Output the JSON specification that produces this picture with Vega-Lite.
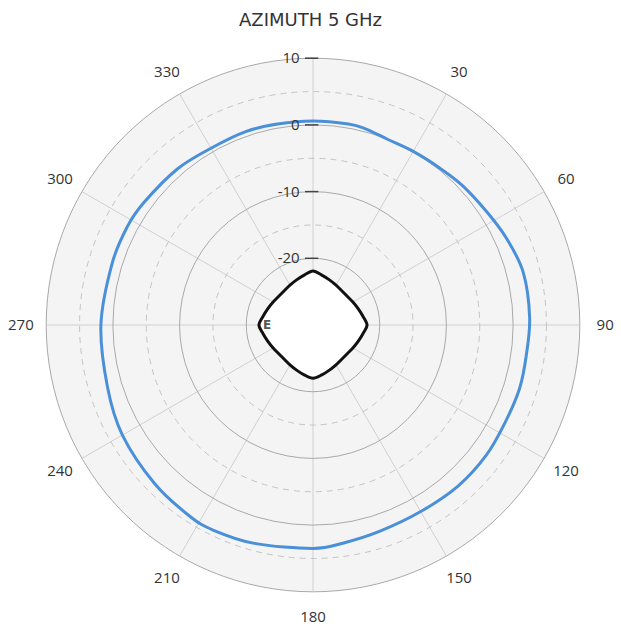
{
  "$schema": "https://vega.github.io/schema/vega-lite/v6.json",
  "width": 621,
  "height": 635,
  "autosize": "none",
  "padding": 0,
  "background": "white",
  "title": {"text": "AZIMUTH 5 GHz", "font": "DejaVu Sans", "fontSize": 18, "fontWeight": "normal", "color": "#333333", "anchor": "middle", "orient": "top", "offset": -30},
  "config": {"view": {"stroke": null}},
  "resolve": {"scale": {"x": "shared", "y": "shared", "size": "independent"}},
  "datasets": {
    "blue": [
      {"angle": 0, "db": 0.6}, {"angle": 10, "db": 0.6}, {"angle": 15, "db": 0.45}, {"angle": 22, "db": 0.0},
      {"angle": 30, "db": 0.05}, {"angle": 39, "db": 0.25}, {"angle": 47, "db": 0.65}, {"angle": 57, "db": 1.1},
      {"angle": 66, "db": 1.8}, {"angle": 76, "db": 2.5}, {"angle": 88, "db": 2.5}, {"angle": 98, "db": 2.3},
      {"angle": 107, "db": 2.4}, {"angle": 117, "db": 2.3}, {"angle": 127, "db": 2.5}, {"angle": 138, "db": 2.5},
      {"angle": 150, "db": 2.3}, {"angle": 162, "db": 2.5}, {"angle": 172, "db": 3.0}, {"angle": 180, "db": 3.5},
      {"angle": 195, "db": 3.9}, {"angle": 206, "db": 4.2}, {"angle": 213, "db": 4.1}, {"angle": 225, "db": 3.6},
      {"angle": 240, "db": 3.0}, {"angle": 253, "db": 2.2}, {"angle": 270, "db": 1.8}, {"angle": 287, "db": 1.5},
      {"angle": 298, "db": 1.5}, {"angle": 306, "db": 1.3}, {"angle": 319, "db": 1.0}, {"angle": 330, "db": 0.6},
      {"angle": 341, "db": 0.7}, {"angle": 350, "db": 0.6}
    ],
    "black": [
      {"angle": 0, "db": -21.9}, {"angle": 10, "db": -22.4}, {"angle": 20, "db": -22.8}, {"angle": 30, "db": -23.1},
      {"angle": 40, "db": -23.3}, {"angle": 50, "db": -23.3}, {"angle": 60, "db": -23.1}, {"angle": 70, "db": -22.8},
      {"angle": 80, "db": -22.4}, {"angle": 90, "db": -21.9}, {"angle": 100, "db": -22.4}, {"angle": 110, "db": -22.8},
      {"angle": 120, "db": -23.1}, {"angle": 130, "db": -23.3}, {"angle": 140, "db": -23.3}, {"angle": 150, "db": -23.1},
      {"angle": 160, "db": -22.8}, {"angle": 170, "db": -22.4}, {"angle": 180, "db": -22.0}, {"angle": 190, "db": -22.4},
      {"angle": 200, "db": -22.8}, {"angle": 210, "db": -23.1}, {"angle": 220, "db": -23.3}, {"angle": 230, "db": -23.3},
      {"angle": 240, "db": -23.1}, {"angle": 250, "db": -22.8}, {"angle": 260, "db": -22.4}, {"angle": 270, "db": -21.9},
      {"angle": 280, "db": -22.4}, {"angle": 290, "db": -22.8}, {"angle": 300, "db": -23.1}, {"angle": 310, "db": -23.3},
      {"angle": 320, "db": -23.3}, {"angle": 330, "db": -23.1}, {"angle": 340, "db": -22.8}, {"angle": 350, "db": -22.4}
    ]
  },
  "layer": [
    {
      "data": {"values": [{"db": 10}]},
      "transform": [{"calculate": "datum.db + 30", "as": "r"}, {"calculate": "0", "as": "cx"}],
      "mark": {"type": "point", "shape": "circle", "filled": true, "fill": "#f4f4f4", "stroke": "#a9a9a9", "strokeWidth": 1, "opacity": 1},
      "encoding": {
        "x": {"field": "cx", "type": "quantitative", "scale": {"domain": [-46.93, 46.18], "nice": false, "zero": false}, "axis": null},
        "y": {"field": "cx", "type": "quantitative", "scale": {"domain": [-46.48, 48.73], "nice": false, "zero": false}, "axis": null},
        "size": {"field": "r", "type": "quantitative", "scale": {"type": "pow", "exponent": 2, "domain": [0, 40], "range": [0, 284736], "zero": true}, "legend": null}
      }
    },
    {
      "data": {"values": [{"angle": 0}, {"angle": 30}, {"angle": 60}, {"angle": 90}, {"angle": 120}, {"angle": 150}, {"angle": 180}, {"angle": 210}, {"angle": 240}, {"angle": 270}, {"angle": 300}, {"angle": 330}]},
      "transform": [
        {"calculate": "0", "as": "cx"},
        {"calculate": "40 * sin(datum.angle * PI / 180)", "as": "ex"},
        {"calculate": "40 * cos(datum.angle * PI / 180)", "as": "ey"}
      ],
      "mark": {"type": "rule", "stroke": "#d0d0d0", "strokeWidth": 1},
      "encoding": {
        "x": {"field": "cx", "type": "quantitative"},
        "y": {"field": "cx", "type": "quantitative"},
        "x2": {"field": "ex"},
        "y2": {"field": "ey"}
      }
    },
    {
      "data": {"values": [{"db": -15}, {"db": -5}, {"db": 5}]},
      "transform": [{"calculate": "datum.db + 30", "as": "r"}, {"calculate": "0", "as": "cx"}],
      "mark": {"type": "point", "shape": "circle", "filled": false, "stroke": "#c4c4c4", "strokeWidth": 1, "strokeDash": [6, 5], "opacity": 1},
      "encoding": {
        "x": {"field": "cx", "type": "quantitative"},
        "y": {"field": "cx", "type": "quantitative"},
        "size": {"field": "r", "type": "quantitative", "scale": {"type": "pow", "exponent": 2, "domain": [0, 40], "range": [0, 284736], "zero": true}, "legend": null}
      }
    },
    {
      "data": {"values": [{"db": -20}, {"db": -10}, {"db": 0}]},
      "transform": [{"calculate": "datum.db + 30", "as": "r"}, {"calculate": "0", "as": "cx"}],
      "mark": {"type": "point", "shape": "circle", "filled": false, "stroke": "#a9a9a9", "strokeWidth": 1, "opacity": 1},
      "encoding": {
        "x": {"field": "cx", "type": "quantitative"},
        "y": {"field": "cx", "type": "quantitative"},
        "size": {"field": "r", "type": "quantitative", "scale": {"type": "pow", "exponent": 2, "domain": [0, 40], "range": [0, 284736], "zero": true}, "legend": null}
      }
    },
    {
      "data": {"name": "blue"},
      "transform": [
        {"calculate": "datum.db + 30", "as": "r"},
        {"calculate": "datum.r * sin(datum.angle * PI / 180)", "as": "px"},
        {"calculate": "datum.r * cos(datum.angle * PI / 180)", "as": "py"}
      ],
      "mark": {"type": "line", "interpolate": "cardinal-closed", "stroke": "#4a90d9", "strokeWidth": 3},
      "encoding": {
        "x": {"field": "px", "type": "quantitative"},
        "y": {"field": "py", "type": "quantitative"},
        "order": {"field": "angle", "type": "quantitative"}
      }
    },
    {
      "data": {"name": "black"},
      "transform": [
        {"calculate": "datum.db + 30", "as": "r"},
        {"calculate": "datum.r * sin(datum.angle * PI / 180)", "as": "px"},
        {"calculate": "datum.r * cos(datum.angle * PI / 180)", "as": "py"}
      ],
      "mark": {"type": "line", "interpolate": "cardinal-closed", "stroke": "#111111", "fill": "#ffffff", "strokeWidth": 3},
      "encoding": {
        "x": {"field": "px", "type": "quantitative"},
        "y": {"field": "py", "type": "quantitative"},
        "order": {"field": "angle", "type": "quantitative"}
      }
    },
    {
      "data": {"values": [{"label": "E"}]},
      "transform": [{"calculate": "-6.9", "as": "ix"}, {"calculate": "0", "as": "iy"}],
      "mark": {"type": "text", "align": "center", "baseline": "middle", "font": "DejaVu Sans", "fontWeight": "bold", "fontSize": 12, "color": "#555555"},
      "encoding": {
        "x": {"field": "ix", "type": "quantitative"},
        "y": {"field": "iy", "type": "quantitative"},
        "text": {"field": "label", "type": "nominal"}
      }
    },
    {
      "data": {"values": [{"db": 10}, {"db": 0}, {"db": -10}, {"db": -20}]},
      "transform": [
        {"calculate": "datum.db + 30", "as": "r"},
        {"calculate": "-1.2", "as": "t1"},
        {"calculate": "0.8", "as": "t2"}
      ],
      "mark": {"type": "rule", "stroke": "#444444", "strokeWidth": 1.5},
      "encoding": {
        "x": {"field": "t1", "type": "quantitative"},
        "x2": {"field": "t2"},
        "y": {"field": "r", "type": "quantitative"}
      }
    },
    {
      "data": {"values": [{"db": 10}, {"db": 0}, {"db": -10}, {"db": -20}]},
      "transform": [{"calculate": "datum.db + 30", "as": "r"}, {"calculate": "-2.0", "as": "lx"}],
      "mark": {"type": "text", "align": "right", "baseline": "middle", "font": "Open Sans", "fontSize": 15, "color": "#333333"},
      "encoding": {
        "x": {"field": "lx", "type": "quantitative"},
        "y": {"field": "r", "type": "quantitative"},
        "text": {"field": "db", "type": "nominal"}
      }
    },
    {
      "data": {"values": [{"angle": 30}, {"angle": 60}, {"angle": 90}, {"angle": 120}, {"angle": 150}, {"angle": 180}, {"angle": 210}, {"angle": 240}, {"angle": 270}, {"angle": 300}, {"angle": 330}]},
      "transform": [
        {"calculate": "43.8 * sin(datum.angle * PI / 180)", "as": "lx"},
        {"calculate": "43.8 * cos(datum.angle * PI / 180)", "as": "ly"}
      ],
      "mark": {"type": "text", "align": "center", "baseline": "middle", "font": "Open Sans", "fontSize": 15, "color": "#333333"},
      "encoding": {
        "x": {"field": "lx", "type": "quantitative"},
        "y": {"field": "ly", "type": "quantitative"},
        "text": {"field": "angle", "type": "nominal"}
      }
    }
  ]
}
